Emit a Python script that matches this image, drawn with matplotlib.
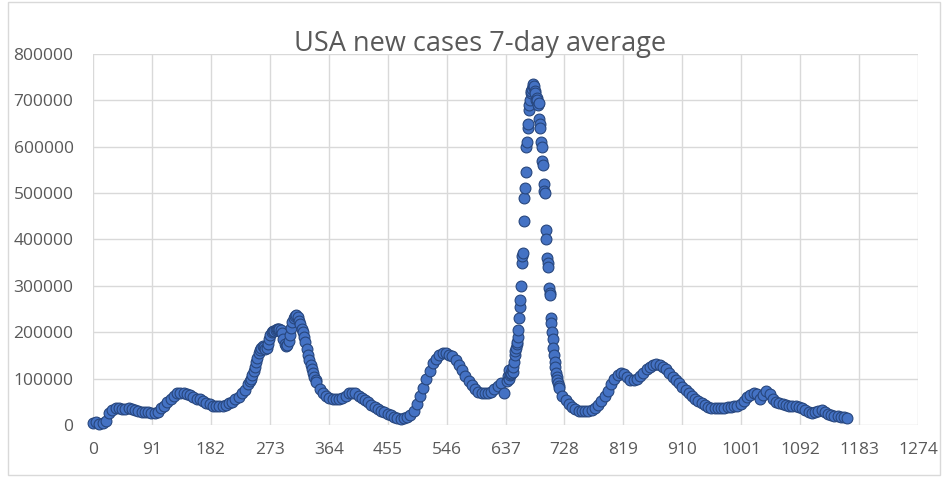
import numpy as np
import matplotlib.pyplot as plt
from matplotlib.patches import Rectangle

# 7-day average of new US cases, by day number since the series start.
# Every 5 days on the slow stretches, every 2 days over the first winter,
# daily through the second winter spike.
days_a = list(range(0, 241, 5))
cases_a = [5000, 6000, 3000, 4000, 8000, 25000, 33000, 36000, 36000, 35000,
           35000, 36000, 35000, 33000, 30000, 29000, 28000, 27000, 25000, 26000,
           29000, 36000, 42000, 50000, 57000, 63000, 68000, 70000, 69000, 67000,
           64000, 60000, 57000, 55000, 52000, 48000, 45000, 42000, 40000, 40000,
           42000, 44000, 48000, 50000, 55000, 60000, 68000, 76000, 88000]

days_b = list(range(242, 345, 2))
cases_b = [94000, 100000, 108000, 116000, 125000, 135000, 145000, 155000, 162000, 167000,
           170000, 168000, 164000, 166000, 175000, 185000, 194000, 200000, 202000, 203000,
           205000, 207000, 208000, 206000, 204000, 198000, 185000, 175000, 170000, 172000,
           182000, 195000, 210000, 222000, 230000, 235000, 237000, 232000, 225000, 217000,
           208000, 200000, 190000, 178000, 163000, 150000, 140000, 130000, 120000, 112000,
           104000, 96000]

days_c = list(range(345, 641, 5))
cases_c = [92000, 78000, 69000, 63000, 59000, 57000, 56000, 57000, 59000, 63000,
           68000, 70000, 68000, 63000, 58000, 54000, 49000, 43000, 38000, 34000,
           30000, 27000, 24000, 21000, 18000, 15000, 14000, 15000, 17000, 22000,
           30000, 45000, 62000, 80000, 100000, 117000, 133000, 143000, 150000, 155000,
           155000, 152000, 148000, 140000, 130000, 118000, 105000, 95000, 86000, 78000,
           72000, 70000, 69000, 70000, 72000, 78000, 85000, 90000, 70000, 95000]

days_d = list(range(641, 721))
cases_d = [105000, 118000, 100000, 108000,
           110000, 112000, 118000, 115000, 125000, 135000, 150000, 160000, 165000, 175000,
           180000, 190000, 205000, 230000, 255000, 270000, 300000, 350000, 365000, 370000,
           440000, 490000, 510000, 545000, 600000, 610000, 640000, 650000, 680000, 690000,
           700000, 715000, 720000, 725000, 730000, 735000, 730000, 720000, 715000, 700000,
           705000, 700000, 690000, 695000, 660000, 650000, 640000, 610000, 600000, 570000,
           560000, 520000, 505000, 500000, 420000, 400000, 360000, 350000, 340000, 295000,
           285000, 280000, 230000, 220000, 200000, 185000, 165000, 150000, 135000, 125000,
           112000, 103000, 97000, 90000, 85000, 80000]

days_e = list(range(725, 1170, 5))
cases_e = [62000, 54000, 45000, 38000, 34000, 31000, 30000, 30000, 31000, 33000,
           37000, 43000, 52000, 62000, 73000, 88000, 100000, 108000, 112000, 110000,
           104000, 98000, 98000, 100000, 105000, 112000, 120000, 126000, 130000, 132000,
           130000, 125000, 120000, 112000, 103000, 97000, 90000, 82000, 75000, 69000,
           62000, 56000, 51000, 47000, 43000, 39000, 37000, 36000, 36000, 36000,
           37000, 38000, 39000, 40000, 42000, 45000, 52000, 60000, 65000, 70000,
           66000, 56000, 65000, 74000, 66000, 55000, 50000, 47000, 45000, 43000,
           42000, 41000, 40000, 39000, 36000, 32000, 28000, 26000, 27000, 30000,
           33000, 28000, 23000, 21000, 20000, 19000, 18000, 17000, 16000]

x_ticks = list(range(0, 1275, 91))
y_ticks = list(range(0, 800001, 100000))

plt.rcParams['font.family'] = ['Open Sans', 'DejaVu Sans']
txt_col = '#595959'
grid_col = '#D9D9D9'

fig = plt.figure(figsize=(9.47, 4.78), dpi=100)
ax = fig.add_axes([93/947, 1-425/478, 825/947, 371/478])

days = days_a + days_b + days_c + days_d + days_e
cases = cases_a + cases_b + cases_c + cases_d + cases_e
ax.plot(days, cases, 'o', ms=7.8, mfc='#4472C4', mec='#27467D', mew=0.8,
        clip_on=False, zorder=3)

ax.set_xlim(0, 1274)
ax.set_ylim(0, 800000)
ax.set_xticks(x_ticks)
ax.set_yticks(y_ticks)
ax.set_xticklabels([str(t) for t in x_ticks])
ax.set_yticklabels([str(t) for t in y_ticks])
ax.grid(True, color=grid_col, lw=1.0)
ax.set_axisbelow(True)
for s in ax.spines.values():
    s.set_visible(False)
ax.tick_params(length=0, labelsize=12.5, labelcolor=txt_col)
ax.tick_params(axis='y', pad=14)
ax.tick_params(axis='x', pad=12)

fig.text(480/947, 1-50.7/478, 'USA new cases 7-day average', ha='center',
         va='baseline', fontsize=19.5, color=txt_col)

fig.patches.append(Rectangle((7.5/947, 3.5/478), 932/947, 473/478,
                             transform=fig.transFigure, fill=False,
                             edgecolor=grid_col, lw=1.0))

fig.savefig('out.png', dpi=100)
